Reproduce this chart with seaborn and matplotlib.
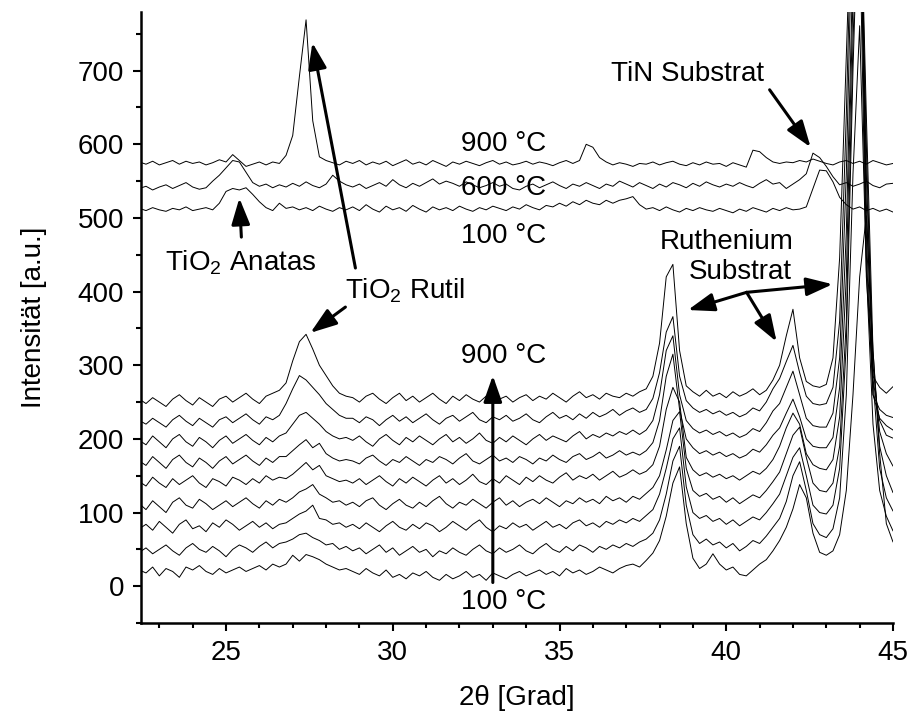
import numpy as np
import pandas as pd
import matplotlib
matplotlib.use('Agg')
import matplotlib.pyplot as plt
import seaborn as sns
from matplotlib.ticker import MultipleLocator

# ---------------- data ----------------
two_theta = np.round(np.arange(22.4, 45.0001, 0.2), 1)   # scan grid, 114 points

# lower group: TiO2 on Ruthenium substrate (100 ... 900 °C)
ru_100 = ([22, 18, 26, 14, 24, 20, 12, 26, 22, 28, 20, 16, 24, 18, 22, 26, 20, 24, 28, 22, 30, 26]
          + [30, 42, 34, 43, 40, 36, 30, 26, 22, 24]
          + [20, 16, 24, 18, 14, 22, 12, 16, 10, 18, 14, 20, 12, 8, 16, 10, 14, 20, 12, 16, 8, 18,
             14, 10, 16, 20, 14, 18, 22, 16, 20, 14, 24, 18, 22, 16, 20, 26, 22, 18, 24, 28, 30, 26]
          + [35, 45, 62, 95, 140, 162, 85, 38, 24, 30, 44]
          + [30, 22, 26, 16, 14, 22, 30, 36, 48]
          + [62, 80, 105, 138, 120, 72, 46]
          + [42, 48, 70, 130, 260, 420, 503, 320, 180, 85, 60])
ru_200 = ([46, 52, 44, 50, 56, 48, 42, 52, 58, 50, 46, 54, 48, 40, 50, 56, 52, 46, 54, 60, 52, 58]
          + [60, 64, 70, 72, 66, 62, 56, 58, 50, 54]
          + [48, 52, 44, 50, 56, 46, 52, 42, 48, 54, 46, 50, 40, 48, 44, 52, 46, 42, 50, 56, 48, 44,
             52, 46, 50, 56, 48, 44, 52, 58, 50, 46, 54, 48, 56, 52, 46, 54, 50, 56, 52, 58, 54, 60]
          + [64, 72, 90, 125, 170, 190, 110, 70, 58, 64, 56]
          + [60, 52, 58, 48, 54, 62, 58, 68, 80]
          + [92, 115, 150, 169, 130, 85, 70]
          + [66, 78, 120, 260, 560, 761, 430, 220, 130, 95, 75])
ru_300 = ([78, 84, 76, 88, 80, 72, 84, 90, 78, 82, 74, 86, 80, 90, 84, 76, 82, 88, 80, 86, 78, 84]
          + [86, 92, 98, 102, 110, 92, 90, 84, 86, 80]
          + [84, 78, 86, 80, 74, 82, 88, 80, 76, 84, 78, 86, 82, 74, 80, 88, 82, 76, 84, 90, 80, 74,
             82, 78, 86, 80, 84, 76, 82, 88, 80, 84, 78, 86, 90, 82, 86, 80, 88, 84, 90, 86, 92, 88]
          + [96, 104, 125, 160, 200, 215, 135, 100, 92, 96, 88]
          + [92, 84, 90, 82, 88, 94, 90, 100, 112]
          + [125, 150, 175, 188, 150, 110, 100]
          + [98, 110, 160, 330, 700, 1000, 600, 280, 160, 120, 102])
ru_400 = ([112, 104, 116, 108, 100, 114, 120, 110, 106, 118, 112, 104, 110, 116, 108, 114, 120, 112, 106, 116, 110, 118]
          + [114, 120, 128, 132, 138, 125, 120, 114, 116, 110]
          + [114, 108, 116, 120, 110, 104, 112, 118, 110, 106, 114, 108, 116, 122, 112, 106, 114, 110, 118, 112, 106, 114,
             120, 110, 116, 108, 114, 118, 112, 120, 114, 108, 116, 112, 120, 114, 118, 112, 122, 116, 120, 114, 122, 118]
          + [126, 134, 150, 185, 225, 237, 160, 130, 122, 126, 118]
          + [122, 114, 120, 112, 118, 124, 120, 130, 142]
          + [155, 180, 205, 216, 175, 140, 130]
          + [128, 140, 190, 360, 740, 1000, 640, 320, 190, 150, 127])
ru_500 = ([142, 136, 148, 140, 134, 146, 138, 144, 150, 140, 134, 146, 142, 136, 148, 144, 138, 146, 140, 150, 144, 148]
          + [146, 152, 160, 168, 158, 164, 150, 146, 142, 144]
          + [140, 146, 138, 144, 150, 142, 136, 146, 140, 148, 142, 136, 144, 150, 140, 146, 138, 144, 152, 142, 138, 146,
             140, 150, 144, 138, 148, 142, 150, 144, 140, 148, 154, 144, 150, 146, 152, 144, 150, 156, 148, 152, 158, 152]
          + [156, 165, 190, 240, 270, 250, 175, 158, 150, 154, 148]
          + [152, 146, 150, 144, 150, 156, 152, 160, 172]
          + [190, 215, 235, 220, 180, 165, 160]
          + [158, 172, 230, 420, 800, 1000, 560, 300, 210, 180, 163])
ru_600 = ([170, 164, 176, 168, 160, 172, 178, 168, 162, 174, 168, 160, 170, 176, 166, 172, 178, 170, 164, 174, 168, 176]
          + [176, 184, 192, 199, 188, 194, 180, 174, 170, 172]
          + [170, 166, 174, 178, 170, 164, 172, 168, 176, 170, 164, 172, 168, 176, 172, 166, 174, 180, 170, 166, 172, 178,
             170, 174, 168, 176, 172, 166, 174, 170, 178, 172, 168, 176, 180, 172, 176, 182, 174, 178, 184, 178, 182, 178]
          + [184, 195, 225, 285, 315, 240, 200, 188, 180, 184, 178]
          + [182, 176, 180, 174, 178, 186, 182, 192, 205]
          + [215, 235, 254, 230, 200, 190, 188]
          + [188, 202, 270, 480, 850, 1000, 520, 280, 225, 205, 201])
ru_700 = ([198, 192, 204, 196, 188, 200, 206, 196, 190, 202, 196, 188, 198, 204, 194, 200, 206, 198, 192, 202, 196, 204]
          + [208, 220, 232, 236, 228, 220, 210, 204, 200, 202]
          + [198, 204, 196, 190, 200, 206, 198, 192, 202, 196, 204, 198, 192, 200, 206, 196, 202, 194, 200, 208, 198, 194,
             202, 196, 204, 198, 192, 200, 206, 198, 204, 200, 196, 204, 210, 200, 206, 202, 208, 204, 210, 206, 212, 206]
          + [212, 225, 260, 320, 340, 260, 225, 214, 208, 212, 206]
          + [210, 204, 208, 202, 206, 214, 210, 222, 238]
          + [248, 270, 292, 260, 228, 218, 216]
          + [216, 235, 310, 560, 950, 1000, 480, 260, 228, 218, 212])
ru_800 = ([225, 220, 228, 222, 216, 226, 232, 224, 218, 228, 222, 216, 226, 230, 222, 228, 234, 226, 220, 230, 226, 232]
          + [248, 268, 286, 280, 270, 260, 248, 240, 232, 228]
          + [228, 222, 230, 226, 218, 226, 232, 224, 230, 222, 228, 234, 226, 220, 228, 232, 224, 230, 236, 226, 222, 230,
             226, 232, 224, 228, 234, 226, 222, 230, 236, 228, 232, 226, 234, 228, 236, 230, 234, 240, 232, 238, 242, 236]
          + [240, 255, 290, 345, 366, 285, 252, 242, 236, 240, 234]
          + [238, 232, 236, 230, 234, 242, 238, 250, 268]
          + [282, 305, 327, 290, 258, 248, 246]
          + [248, 270, 360, 640, 1000, 1000, 450, 260, 240, 232, 229])
ru_900 = ([254, 248, 256, 250, 244, 254, 260, 252, 246, 256, 250, 244, 254, 258, 250, 256, 262, 254, 248, 258, 262, 266]
          + [276, 306, 332, 342, 322, 300, 286, 272, 262, 258]
          + [256, 250, 258, 262, 254, 248, 256, 262, 252, 258, 250, 256, 262, 254, 248, 258, 252, 260, 254, 250, 258, 262,
             254, 258, 250, 256, 260, 252, 258, 254, 262, 256, 250, 258, 264, 256, 260, 254, 262, 258, 256, 262, 258, 264]
          + [268, 285, 330, 420, 437, 320, 272, 264, 258, 266, 258]
          + [262, 256, 264, 258, 262, 268, 260, 266, 280]
          + [300, 340, 376, 310, 278, 272, 270]
          + [274, 310, 446, 720, 1000, 900, 420, 285, 270, 262, 271])

# upper group: TiO2 on TiN substrate (100, 600, 900 °C)
tin_100 = ([513, 510, 514, 511, 509, 513, 511, 515, 510, 512, 514, 511, 520, 536, 540, 538, 541, 532, 522, 514, 510, 520]
           + [513, 515, 511, 514, 510, 516, 512, 509, 514, 511]
           + [515, 510, 518, 512, 508, 516, 511, 514, 509, 517, 512, 508, 515, 511, 514, 510, 516, 512, 509, 514, 511, 516,
              513, 510, 515, 512, 518, 514, 511, 517, 515, 520, 516, 522, 518, 524, 520, 518, 524, 520, 524, 526, 529, 518]
           + [512, 514, 510, 515, 511, 508, 513, 510, 514, 511, 509]
           + [513, 510, 507, 512, 509, 514, 511, 508, 513]
           + [510, 514, 511, 512, 515, 540, 565]
           + [564, 549, 528, 518, 512, 515, 510, 513, 509, 512, 508])
tin_600 = ([540, 543, 538, 542, 545, 540, 544, 548, 542, 539, 541, 550, 558, 568, 578, 576, 562, 548, 543, 546, 541, 545]
           + [542, 547, 543, 549, 544, 541, 546, 558, 550, 545]
           + [542, 546, 540, 544, 548, 543, 552, 545, 541, 547, 543, 548, 553, 546, 550, 547, 543, 549, 545, 541, 544, 548,
              543, 546, 540, 538, 543, 546, 541, 545, 549, 544, 540, 546, 543, 548, 544, 540, 546, 543, 550, 546, 542, 548]
           + [544, 540, 546, 542, 548, 545, 541, 547, 543, 549, 545]
           + [542, 546, 543, 548, 544, 541, 547, 552, 546]
           + [548, 540, 546, 552, 560, 588, 582]
           + [570, 556, 545, 548, 543, 546, 550, 544, 541, 546, 547])
tin_900 = ([576, 573, 577, 572, 575, 578, 573, 577, 574, 576, 572, 575, 579, 576, 586, 578, 570, 573, 576, 572, 576, 574]
           + [585, 612, 692, 769, 632, 583, 578, 575, 572, 577]
           + [574, 578, 572, 576, 573, 577, 571, 575, 579, 573, 576, 572, 578, 574, 570, 576, 573, 577, 574, 571, 575, 578,
              573, 576, 572, 574, 577, 573, 576, 574, 571, 575, 578, 574, 578, 600, 596, 582, 576, 572, 575, 573, 570, 574]
           + [573, 576, 572, 575, 577, 573, 571, 575, 572, 576, 573]
           + [574, 570, 575, 572, 569, 592, 590, 582, 576]
           + [574, 576, 575, 578, 576, 580, 577]
           + [574, 572, 576, 578, 574, 577, 573, 578, 575, 572, 574])

curves = {
    'Ru 100': ru_100, 'Ru 200': ru_200, 'Ru 300': ru_300, 'Ru 400': ru_400, 'Ru 500': ru_500,
    'Ru 600': ru_600, 'Ru 700': ru_700, 'Ru 800': ru_800, 'Ru 900': ru_900,
    'TiN 100': tin_100, 'TiN 600': tin_600, 'TiN 900': tin_900,
}
for k, v in curves.items():
    assert len(v) == len(two_theta), (k, len(v))

df = pd.concat([pd.DataFrame({'theta': two_theta, 'I': v, 'curve': k}) for k, v in curves.items()],
               ignore_index=True)

# ---------------- plot ----------------
sns.set_style('ticks')
plt.rcParams['font.family'] = ['Liberation Sans', 'DejaVu Sans']
plt.rcParams['mathtext.fontset'] = 'custom'
plt.rcParams['mathtext.rm'] = 'Liberation Sans'
for key in ('text.color', 'axes.labelcolor', 'xtick.color', 'ytick.color', 'axes.edgecolor'):
    plt.rcParams[key] = 'black'

fig = plt.figure(figsize=(9.09, 7.2), dpi=100)
ax = fig.add_axes([0.1551, 0.1347, 0.8273, 0.849])

sns.lineplot(data=df, x='theta', y='I', units='curve', estimator=None, color='black',
             linewidth=0.7, legend=False, ax=ax)

ax.set_xlim(22.45, 45)
ax.set_ylim(-50, 780)
ax.xaxis.set_major_locator(MultipleLocator(5))
ax.xaxis.set_minor_locator(MultipleLocator(1))
ax.yaxis.set_major_locator(MultipleLocator(100))
ax.yaxis.set_minor_locator(MultipleLocator(50))
ax.tick_params(which='major', direction='out', length=6, width=1.5, labelsize=20, pad=6,
               color='black', labelcolor='black')
ax.tick_params(which='minor', direction='out', length=3.5, width=1.5, color='black')
for s in ('top', 'right'):
    ax.spines[s].set_visible(False)
for s in ('left', 'bottom'):
    ax.spines[s].set_linewidth(1.8)
    ax.spines[s].set_color('black')

ax.set_xlabel('2θ [Grad]', fontsize=20, labelpad=14, color='black')
ax.set_ylabel('Intensität [a.u.]', fontsize=20, labelpad=22, color='black')

fs = 20
ax.text(33.31, 600, '900 °C', fontsize=fs, ha='center', va='center')
ax.text(33.31, 541, '600 °C', fontsize=fs, ha='center', va='center')
ax.text(33.31, 476, '100 °C', fontsize=fs, ha='center', va='center')
ax.text(33.31, 312, '900 °C', fontsize=fs, ha='center', va='center')
ax.text(33.31, -21, '100 °C', fontsize=fs, ha='center', va='center')
ax.text(38.85, 696, 'TiN Substrat', fontsize=fs, ha='center', va='center')
ax.text(25.43, 440, r'TiO$_\mathregular{2}$ Anatas', fontsize=fs, ha='center', va='center')
ax.text(30.37, 402, r'TiO$_\mathregular{2}$ Rutil', fontsize=fs, ha='center', va='center')
ax.text(40.01, 467, 'Ruthenium', fontsize=fs, ha='center', va='center')
ax.text(40.43, 426, 'Substrat', fontsize=fs, ha='center', va='center')

aprops = dict(arrowstyle='-|>,head_length=1.0,head_width=0.35', color='black', lw=2.2,
              mutation_scale=16, shrinkA=0, shrinkB=0)
def arrow(tail, tip):
    ax.annotate('', xy=tip, xytext=tail, xycoords='data', textcoords='data', arrowprops=aprops)

arrow((28.88, 432), (27.59, 738))      # TiO2 Rutil (upper)
arrow((25.46, 474), (25.40, 527))      # TiO2 Anatas
arrow((28.58, 379), (27.53, 344))      # TiO2 Rutil (lower)
arrow((41.30, 674), (42.53, 596))      # TiN Substrat
arrow((33.0, 5), (33.0, 286))          # 100 -> 900 °C
arrow((40.61, 399), (38.85, 375))      # Ruthenium left
arrow((40.61, 399), (43.19, 410))      # Ruthenium right
arrow((40.61, 399), (41.51, 332))      # Ruthenium down

fig.savefig('out.png', dpi=100)
